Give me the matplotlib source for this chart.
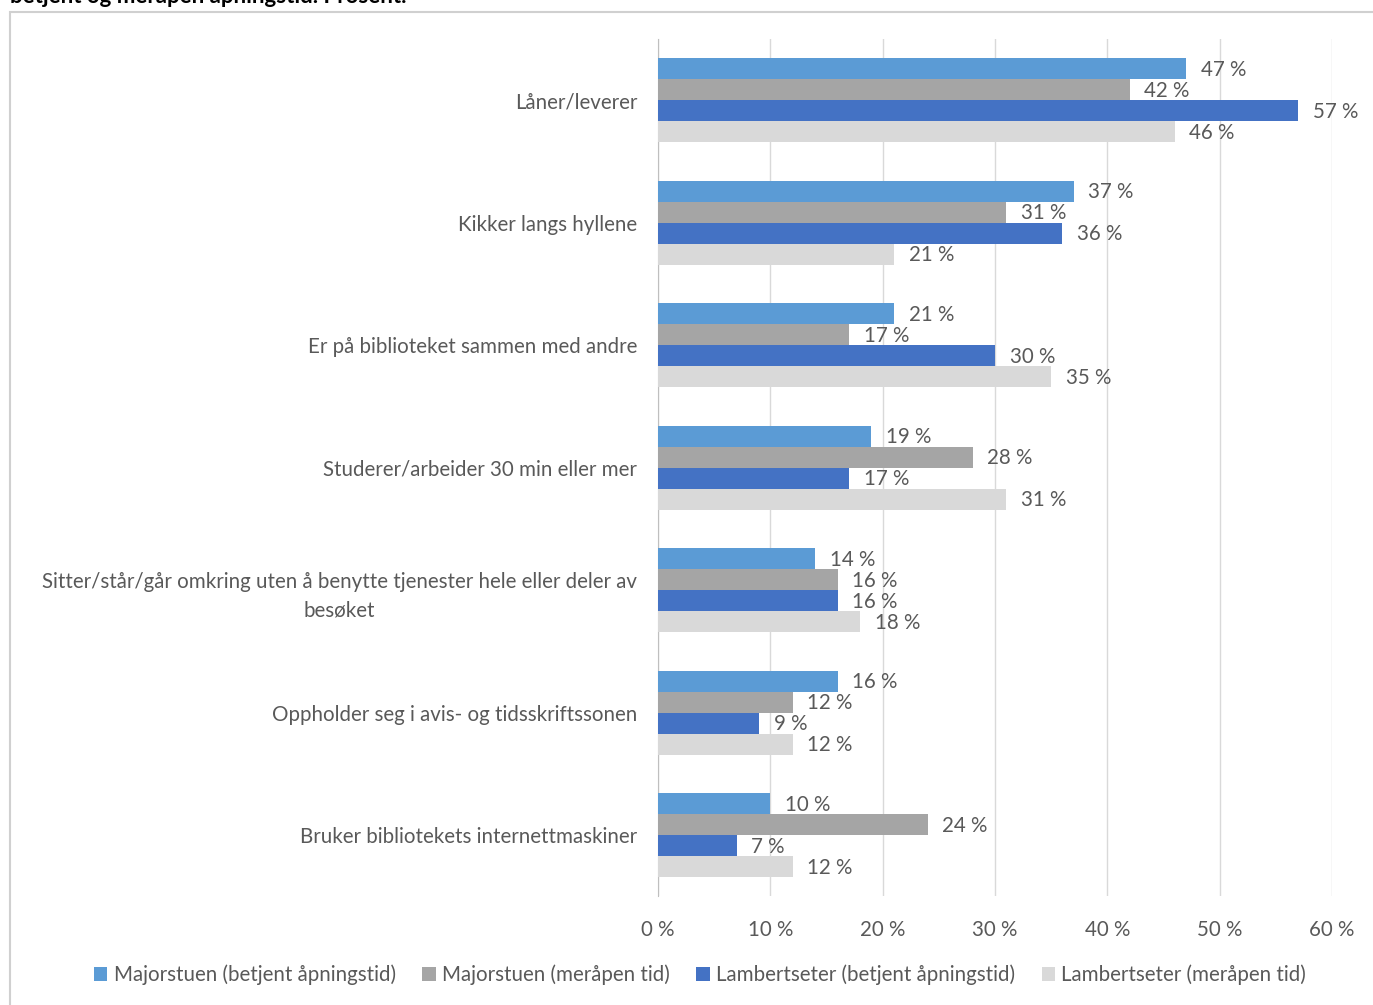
import numpy as np
import matplotlib.pyplot as plt
from matplotlib.patches import Rectangle

# Data

categories = ["Låner/leverer",
              "Kikker langs hyllene",
              "Er på biblioteket sammen med andre",
              "Studerer/arbeider 30 min eller mer",
              "Sitter/står/går omkring uten å benytte tjenester hele eller deler av\nbesøket",
              "Oppholder seg i avis- og tidsskriftssonen",
              "Bruker bibliotekets internettmaskiner"]

series_names = ["Majorstuen (betjent åpningstid)",
                "Majorstuen (meråpen tid)",
                "Lambertseter (betjent åpningstid)",
                "Lambertseter (meråpen tid)"]

majorstuen_betjent = [47, 37, 21, 19, 14, 16, 10]
majorstuen_meraapen = [42, 31, 17, 28, 16, 12, 24]
lambertseter_betjent = [57, 36, 30, 17, 16, 9, 7]
lambertseter_meraapen = [46, 21, 35, 31, 18, 12, 12]

ticks = [0, 10, 20, 30, 40, 50, 60]
title = "betjent og meråpen åpningstid. Prosent."

colors = ["#5B9BD5", "#A5A5A5", "#4472C4", "#D9D9D9"]
text_col = "#595959"
fs = 14.8

plt.rcParams['font.family'] = ['Lato', 'DejaVu Sans']

fig = plt.figure(figsize=(13.73, 10.05), dpi=100)
ax = fig.add_axes([658/1373, 1 - 896.25/1005, 674/1373, 857.5/1005])

# Frame and cut-off title
fig.patches.append(Rectangle((10/1373, -0.01), 1.0, 1 - 12/1005 + 0.01,
                             transform=fig.transFigure, fill=False,
                             edgecolor="#D0D0D0", linewidth=1.5))
fig.text(10/1373, 1 - 3/1005, title, fontsize=16, fontweight='bold',
         va='baseline', ha='left', color='black')

all_series = [majorstuen_betjent, majorstuen_meraapen,
              lambertseter_betjent, lambertseter_meraapen]
y = np.arange(len(categories))
h = 21 / 122.5

for k, (vals, name, c) in enumerate(zip(all_series, series_names, colors)):
    pos = y + (k - 1.5) * h
    ax.barh(pos, vals, height=h, color=c, label=name, zorder=3)
    for p, v in zip(pos, vals):
        ax.text(v + 1.3, p + 0.01, "{} %".format(v), va='center', ha='left',
                fontsize=fs, color=text_col)

ax.set_xlim(0, 60)
ax.set_ylim(len(categories) - 0.5, -0.5)
ax.set_xticks(ticks)
ax.set_xticklabels(["{} %".format(t) for t in ticks], fontsize=fs, color=text_col)
ax.set_yticks(y)
ax.set_yticklabels(categories, fontsize=fs, color=text_col,
                   multialignment='center', linespacing=1.55)
ax.tick_params(axis='both', length=0)
ax.tick_params(axis='x', pad=17)
ax.tick_params(axis='y', pad=15)
ax.grid(axis='x', color="#D9D9D9", linewidth=1, zorder=0)
for s in ['top', 'right', 'bottom']:
    ax.spines[s].set_visible(False)
ax.spines['left'].set_color("#BFBFBF")

fig.legend(loc='center', bbox_to_anchor=(700/1373, 1 - 975/1005), ncol=4,
           frameon=False, fontsize=fs, labelcolor=text_col,
           handlelength=0.65, handleheight=0.65, handletextpad=0.3,
           columnspacing=1.3)

fig.savefig("out.png", dpi=100)
